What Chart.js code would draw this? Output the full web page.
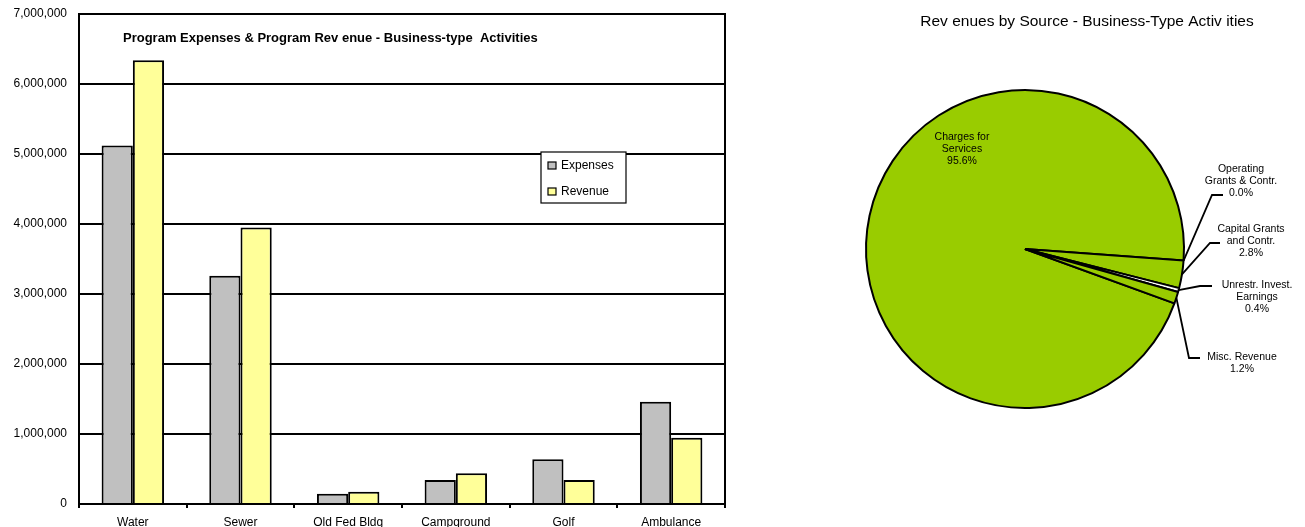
<!DOCTYPE html>
<html>
<head>
<meta charset="utf-8">
<script src="https://cdn.jsdelivr.net/npm/chart.js@4.4.1/dist/chart.umd.min.js"></script>
<style>
  body { margin: 0; background: #fff; }
  #barBox { position: absolute; left: 0; top: 0; width: 745px; height: 527px; }
  #pieBox { position: absolute; left: 745px; top: 0; width: 560px; height: 527px; }
</style>
</head>
<body>
<div id="barBox"><canvas id="barChart"></canvas></div>
<div id="pieBox"><canvas id="pieChart"></canvas></div>
<script>
// Data kategori dan nilai
const categories = ['Water', 'Sewer', 'Old Fed Bldg', 'Campground', 'Golf', 'Ambulance'];
const expenses = [5120000, 3260000, 147000, 343000, 638000, 1460000];
const revenue = [6340000, 3950000, 176000, 438000, 343000, 947000];
const yMax = 7000000;
const yStep = 1000000;

// Data pie
const sourceLabels = [['Charges for', 'Services'], ['Operating', 'Grants & Contr.'], ['Capital Grants', 'and Contr.'], ['Unrestr. Invest.', 'Earnings'], ['Misc. Revenue']];
const sourceShares = [95.6, 0.0, 2.8, 0.4, 1.2];
const sliceColors = ['#99CC00', '#99CC00', '#99CC00', '#FFFFFF', '#99CC00'];

const FONT = 'Arial, "Liberation Sans", sans-serif';
Chart.defaults.font.family = FONT;
Chart.defaults.color = '#000';

// Judul & legenda di dalam area plot
const barExtras = {
    id: 'barExtras',
    afterDraw(chart) {
        const ctx = chart.ctx;
        const area = chart.chartArea;
        ctx.save();
        // garis kanan kotak plot
        ctx.strokeStyle = '#000'; ctx.lineWidth = 2;
        ctx.beginPath(); ctx.moveTo(area.right, area.top - 1); ctx.lineTo(area.right, area.bottom + 4); ctx.stroke();
        // judul
        ctx.font = 'bold 13px ' + FONT; ctx.fillStyle = '#000';
        ctx.textAlign = 'left'; ctx.textBaseline = 'middle';
        ctx.fillText('Program Expenses & Program Rev enue - Business-type  Activities', area.left + 44, 38);
        // legenda
        const lx = 541, ly = 152, lw = 85, lh = 51;
        ctx.fillStyle = '#fff'; ctx.fillRect(lx, ly, lw, lh);
        ctx.lineWidth = 1.2; ctx.strokeRect(lx, ly, lw, lh);
        ctx.font = '12px ' + FONT;
        chart.data.datasets.forEach((ds, i) => {
            const yy = 166 + i * 26;
            ctx.fillStyle = ds.backgroundColor;
            ctx.fillRect(548, yy - 4, 8, 7);
            ctx.strokeStyle = '#000'; ctx.lineWidth = 1.2;
            ctx.strokeRect(548, yy - 4, 8, 7);
            ctx.fillStyle = '#000';
            ctx.fillText(ds.label, 561, yy);
        });
        ctx.restore();
    }
};

new Chart(document.getElementById('barChart'), {
    type: 'bar',
    data: {
        labels: categories,
        datasets: [
            { label: 'Expenses', data: expenses, backgroundColor: '#C0C0C0', borderColor: '#000', borderWidth: 2 },
            { label: 'Revenue', data: revenue, backgroundColor: '#FFFF99', borderColor: '#000', borderWidth: 2 }
        ]
    },
    options: {
        responsive: true, maintainAspectRatio: false, animation: false,
        layout: { padding: { top: 14, right: 20, left: 0, bottom: 0 } },
        datasets: { bar: { categoryPercentage: 0.58, barPercentage: 1.0 } },
        plugins: { legend: { display: false }, tooltip: { enabled: false } },
        scales: {
            x: {
                grid: { display: true, drawOnChartArea: false, drawTicks: true, tickLength: 4, color: '#000', lineWidth: 2, offset: true },
                border: { display: true, color: '#000', width: 2 },
                ticks: { font: { size: 12 }, color: '#000', maxRotation: 0, autoSkip: false, padding: 7 },
                afterFit: (s) => { s.height = 23; s.paddingLeft = 0; s.paddingRight = 0; }
            },
            y: {
                min: 0, max: yMax,
                grid: { color: '#000', lineWidth: 2, drawTicks: false },
                border: { display: true, color: '#000', width: 2 },
                ticks: { stepSize: yStep, font: { size: 12 }, color: '#000', padding: 12,
                    callback: (v) => v.toLocaleString('en-US') },
                afterFit: (s) => { s.width = 79; s.paddingTop = 0; s.paddingBottom = 0; }
            }
        }
    },
    plugins: [barExtras]
});

// Posisi label pie (relatif terhadap pusat pie)
const pieLabelLayout = [
    { dx: -63, dy: -112, lead: null },
    { dx: 216, dy: -80, lead: { x1: 198, x2: 187, y: -54 } },
    { dx: 226, dy: -20, lead: { x1: 195, x2: 185, y: -6 } },
    { dx: 232, dy: 36, lead: { x1: 187, x2: 175, y: 37 } },
    { dx: 217, dy: 108, lead: { x1: 175, x2: 164, y: 109 } }
];

const pieExtras = {
    id: 'pieExtras',
    afterDraw(chart) {
        const ctx = chart.ctx;
        const arcs = chart.getDatasetMeta(0).data;
        ctx.save();
        ctx.fillStyle = '#000';
        ctx.textAlign = 'center'; ctx.textBaseline = 'middle';
        ctx.font = '15.5px ' + FONT;
        ctx.fillText('Rev enues by Source - Business-Type Activ ities', 342, 22);
        ctx.font = '10.5px ' + FONT;
        arcs.forEach((arc, i) => {
            const p = arc.getProps(['x', 'y', 'startAngle', 'endAngle', 'outerRadius'], true);
            const lay = pieLabelLayout[i];
            const lines = sourceLabels[i].concat([sourceShares[i].toFixed(1) + '%']);
            lines.forEach((t, k) => {
                ctx.fillText(t, p.x + lay.dx, p.y + lay.dy + k * 12);
            });
            if (lay.lead) {
                const mid = (p.startAngle + p.endAngle) / 2;
                const rx = p.x + Math.cos(mid) * p.outerRadius;
                const ry = p.y + Math.sin(mid) * p.outerRadius;
                ctx.strokeStyle = '#000'; ctx.lineWidth = 1.8;
                ctx.beginPath();
                ctx.moveTo(p.x + lay.lead.x1, p.y + lay.lead.y);
                ctx.lineTo(p.x + lay.lead.x2, p.y + lay.lead.y);
                ctx.lineTo(rx, ry);
                ctx.stroke();
            }
        });
        ctx.restore();
    }
};

new Chart(document.getElementById('pieChart'), {
    type: 'pie',
    data: {
        labels: sourceLabels.map(l => l.join(' ')),
        datasets: [{ data: sourceShares, backgroundColor: sliceColors, borderColor: '#000', borderWidth: 2 }]
    },
    options: {
        responsive: true, maintainAspectRatio: false, animation: false,
        rotation: 110,
        layout: { padding: { top: 89, bottom: 118, left: 0, right: 0 } },
        plugins: { legend: { display: false }, tooltip: { enabled: false } }
    },
    plugins: [pieExtras]
});
</script>
</body>
</html>
